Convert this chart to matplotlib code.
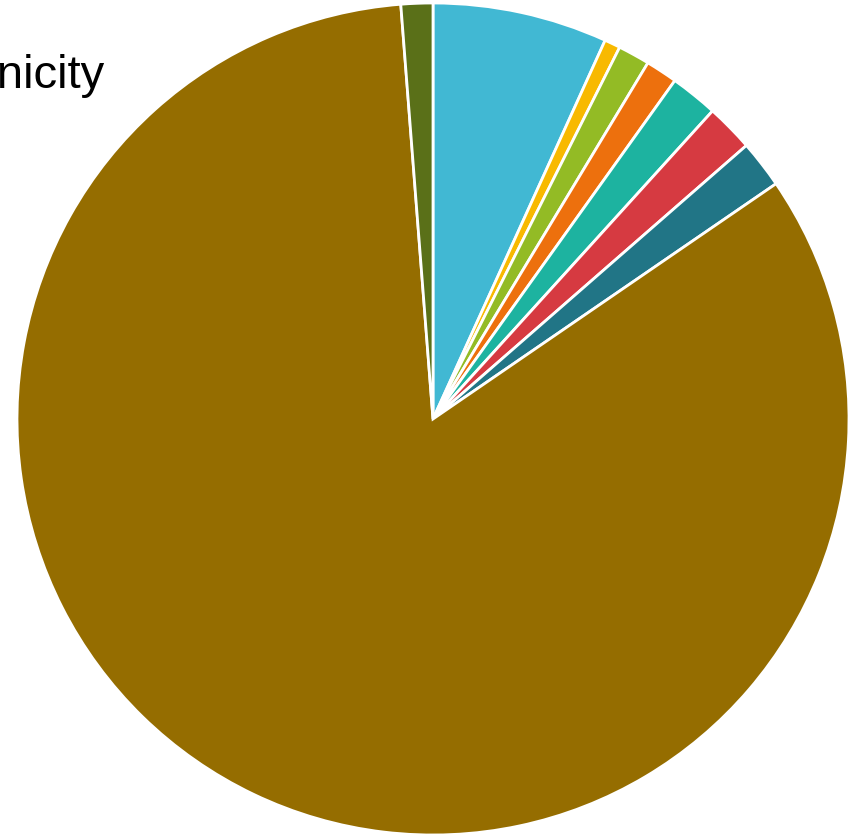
import matplotlib
matplotlib.use('Agg')
import matplotlib.pyplot as plt

# ethnicity counts, clockwise from 12 o'clock
groups = ['Group A', 'Group B', 'Group C', 'Group D', 'Group E', 'Group F', 'Group G', 'Group H', 'Group I']
counts = [11, 1, 2, 2, 3, 3, 3, 135, 2]
colors = ['#41b8d3', '#f8b900', '#93bb25', '#ed700d', '#1db3a0', '#d63a41', '#217586', '#956d00', '#5a7018']

W, H = 851, 837
fig = plt.figure(figsize=(W / 100, H / 100), dpi=100)

cx, cy, r = 433, 417, 416  # pixels, y from bottom
ax = fig.add_axes([(cx - r) / W, (cy - r) / H, 2 * r / W, 2 * r / H])
ax.pie(counts, colors=colors, startangle=90, counterclock=False,
       wedgeprops={'edgecolor': 'white', 'linewidth': 2.0})
ax.set_xlim(-1, 1)
ax.set_ylim(-1, 1)
ax.set_aspect('auto')
ax.axis('off')

fig.text(104 / W, (H - 87.5) / H, 'Ethnicity', ha='right', va='baseline',
         fontsize=34, family='Liberation Sans', color='black')

fig.savefig('out.png', dpi=100)
